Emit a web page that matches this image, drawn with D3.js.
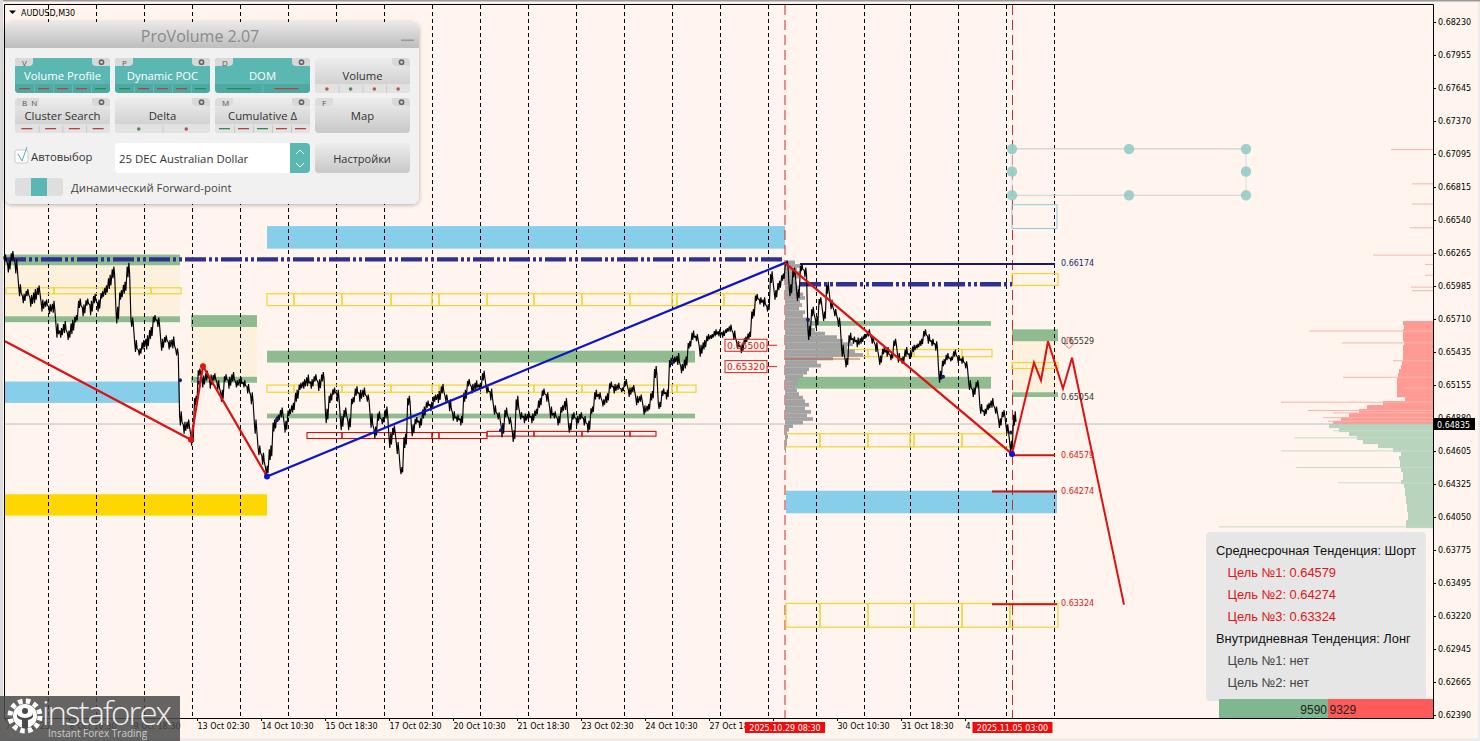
<!DOCTYPE html>
<html><head><meta charset="utf-8">
<script src="https://cdn.jsdelivr.net/npm/d3@7"></script>
<style>
html,body{margin:0;padding:0;background:#f0f0f0;overflow:hidden}
svg{display:block}
.axis text{font-family:"DejaVu Sans";font-size:8px;fill:#000}
.axis path,.axis line{stroke:#000;stroke-width:1;shape-rendering:crispEdges}
</style></head><body>
<svg id="c" width="1480" height="741"></svg>
<script>
// ---- DATA (prices in 1e-4 units, time in M30 bars from chart start) ----
const priceTickLabels=["0.68230","0.67955","0.67645","0.67370","0.67095","0.66815","0.66540","0.66265","0.65985","0.65710","0.65435","0.65155","0.64880","0.64605","0.64325","0.64050","0.63775","0.63495","0.63220","0.62945","0.62665","0.62390"];
const timeTickLabels=["7 Oct 2025","8 Oct 10:30","9 Oct 18:30","13 Oct 02:30","14 Oct 10:30","15 Oct 18:30","17 Oct 02:30","20 Oct 10:30","21 Oct 18:30","23 Oct 02:30","24 Oct 10:30","27 Oct 18:30","29 Oct 02:30","30 Oct 10:30","31 Oct 18:30","4 Nov 02:30"];
const daySeparators=[43,91,139,187,235,283,331,379,427,475,523,571,619,667,715,763,811,859,905,953,1001,1049];
const closeStep=3.74;
const closes=[
6624,6617,6626,6617,6597,6590,6595,6588,6592,6597,6584,6586,6581,6583,6563,6561,
6566,6559,6566,6573,6586,6580,6587,6582,6590,6584,6593,6597,6604,6612,6576,6593,
6599,6614,6570,6550,6545,6551,6553,6561,6573,6570,6551,6556,6551,6553,6545,6489,
6481,6484,6472,6504,6528,6520,6525,6520,6524,6517,6508,6523,6519,6524,6518,6520,
6518,6514,6506,6482,6462,6455,6445,6460,6483,6489,6494,6482,6494,6498,6508,6516,
6518,6521,6518,6523,6517,6524,6491,6506,6512,6508,6485,6494,6484,6504,6512,6508,
6511,6506,6487,6477,6491,6487,6494,6470,6479,6464,6445,6470,6504,6479,6487,6485,
6494,6501,6499,6506,6507,6514,6506,6500,6491,6489,6487,6508,6519,6514,6517,6516,
6525,6513,6509,6496,6491,6479,6494,6487,6474,6502,6491,6489,6491,6489,6494,6502,
6511,6507,6494,6492,6487,6497,6501,6481,6491,6487,6491,6487,6482,6496,6509,6508,
6502,6506,6517,6514,6516,6513,6519,6511,6514,6504,6506,6496,6498,6508,6528,6500,
6511,6509,6536,6538,6539,6531,6536,6551,6559,6557,6546,6551,6557,6558,6561,6561,
6560,6563,6565,6559,6551,6548,6555,6559,6577,6591,6588,6587,6582,6608,6593,6601,
6608,6620,6597,6612,6593,6616,6612,6561,6579,6570,6588,6575,6599,6585,6578,6570,
6546,6536,6557,6555,6553,6555,6558,6561,6555,6549,6538,6546,6545,6541,6553,6540,
6538,6545,6542,6548,6550,6553,6561,6556,6553,6550,6524,6536,6541,6539,6544,6539,
6538,6534,6517,6511,6518,6497,6494,6499,6502,6496,6485,6493,6480,6465,6489];
// half-range of each sampled span, read as the local thickness of the price trace
const swings=[
3,5,4,6,5,4,3,5,6,4,5,3,4,5,6,4,
5,4,6,3,4,5,3,6,4,5,3,4,6,5,7,4,
5,6,4,5,3,4,6,5,3,4,5,3,4,5,3,6,
5,4,6,4,3,5,4,6,3,4,5,3,5,4,3,4,
3,4,5,6,4,5,4,6,5,3,4,5,3,4,5,3,
4,5,4,3,5,4,6,4,3,5,6,4,5,3,4,5,
4,3,6,5,4,3,5,6,4,5,3,6,4,5,3,4,
5,3,4,3,5,4,3,5,4,3,4,5,3,4,4,3,
4,3,5,4,3,6,4,3,5,6,3,4,3,4,3,4,
3,4,5,3,4,3,5,4,3,4,3,4,5,3,4,3,
3,4,3,4,3,2,3,4,3,4,3,4,3,4,5,3,
3,4,4,3,5,4,5,3,4,3,5,4,3,2,3,3,
3,2,3,4,3,4,3,3,4,3,3,4,3,5,4,4,
3,2,5,4,5,3,4,6,4,5,3,4,5,4,3,4,
5,4,4,3,4,3,2,3,3,4,4,3,4,3,3,4,
3,4,3,3,2,3,3,4,3,4,5,3,3,2,3,3,
3,3,4,4,3,4,3,3,4,3,4,3,4,5,6];

const creamZones=[[0,175,6618,6575],[186,252,6566,6524],[1007,1052,6554,6511]];
const greenZones=[[0,175,6627,6618],[0,175,6575,6570],[186,252,6576,6566],[186,252,6524,6519],[262,690,6546,6536],[262,690,6493,6489],[800,986,6571,6567],[788,986,6524,6514],[1007,1053,6564,6554],[1007,1053,6511,6507]];
const blueZones=[[0,175,6520,6502],[262,780,6651,6632],[781,1052,6428,6409]];
const goldZones=[[0,262,6425,6407]];

const yellowRows=[
 {edges:[262,289,337,386,427,434,482,529,577,625,667,672,719,750],top:6594,bot:6584},
 {edges:[262,289,337,386,427,434,482,529,577,625,667,672,691],top:6517,bot:6511},
 {edges:[1,49,98,146,176],top:6599,bot:6594},
 {edges:[781,815,863,905,909,957,1007],top:6476,bot:6465},
 {edges:[818,863,909,957,987],top:6547,bot:6541},
 {edges:[781,815,863,909,957,1005,1053],top:6333,bot:6313},
 {edges:[1007,1053],top:6611,bot:6601},
 {edges:[1007,1053],top:6536,bot:6531}];
const redRows=[
 {edges:[302,337,386,427,434,482],top:6477,bot:6472},
 {edges:[482,529,577,625,651],top:6478,bot:6474}];

const dashDotLevels=[[0,780,6623],[795,1007,6602]];
const navyLevel=[795,1050,6619];
const redLevels=[[1007,1050,6457.9],[987,1052,6427.4],[987,1052,6332.4]];
const levelLabels=[["0.66174",6619.5,"#1b2a6b"],["0.65529",6554.5,"#333"],["0.65054",6507,"#333"],["0.64579",6458,"#e01515"],["0.64274",6428,"#e01515"],["0.63324",6333,"#e01515"]];

const redWaveBars=[0,186,198,262], redWaveVals=[6554,6471,6533,6440];
const blueWaveBars=[262,780], blueWaveVals=[6440,6620];
const dropBars=[780,1007], dropVals=[6620,6459];
const forecastBars=[1007,1029,1036,1043,1058,1067,1119], forecastVals=[6459,6536,6521,6554,6514,6540,6332];
const markerBars=[175,194,272,496,667,803,938,1006], markerVals=[6521,6519,6488,6479,6536,6572,6524,6477];
const handleBars=[1007,1124,1241], handleVals=[6716,6697,6677];

const sessionVols=[10,18,12,16,14,10,12,15,12,18,20,15,17,14,20,18,22,28,24,30,40,52,58,68,62,70,78,48,32,36,24,22,18,14,12,10,12,14,18,20,24,20,26,22,28,18,8,4,2,3,2,2,1,1];
const askVols=[30,29,30,30,30,29,30,30,30,30,31,32,34,35,36,36,36,36,36,28,50,66,74,84,92,100];
const bidVols=[104,94,84,76,70,55,40,32,34,33,33,32,30,30,32,29,28,28,27,27,26,26,25,25,27,27];
const askSpikes=[[6716,42],[6687,21],[6670,21],[6650,23],[6627,60],[6619,8],[6610,8],[6600,22],[6597,21],[6563,124],[6553,91],[6538,40],[6524,90],[6515,30],[6503,152],[6496,125],[6494,100],[6490,110],[6487,105]];
const bidSpikes=[[6479,100],[6473,139],[6462,152],[6448,137],[6435,95],[6398,214]];

const buttonLabels=["Volume Profile","Dynamic POC","DOM","Volume","Cluster Search","Delta","Cumulative Δ","Map"];
const buttonTags=["V","P","D","","B  N","","M","F"];
const buttonOn=[1,1,1,0,0,0,0,0];
const buttonStrips=["rrrrg","grrrg","gr","o:rgrr","rrrr","o:gr","grgrr",""];
const panelTexts=[["Среднесрочная Тенденция: Шорт",0,"#111"],["Цель №1: 0.64579",1,"#e01515"],["Цель №2: 0.64274",1,"#e01515"],["Цель №3: 0.63324",1,"#e01515"],["Внутридневная Тенденция: Лонг",0,"#111"],["Цель №1: нет",1,"#444"],["Цель №2: нет",1,"#444"]];

// ---- SCALES ----
const svg=d3.select("#c");
const x=d3.scaleLinear().domain([0,1428]).range([5,1433]);
const yp=d3.scaleLinear().domain([0.6239,0.6823]).range([715,22]);
const y=v=>yp(v/1e4);
const vol=d3.scaleLinear().domain([0,100]).range([0,100]);

// background
svg.append("rect").attr("width",1480).attr("height",741).attr("fill","#ececec");
svg.append("rect").attr("x",1).attr("y",1).attr("width",1477).attr("height",737).attr("fill","#fff5ee");
svg.append("rect").attr("x",0).attr("y",0).attr("width",1480).attr("height",1.5).attr("fill","#999");
svg.append("rect").attr("x",0).attr("y",0).attr("width",3).attr("height",718).attr("fill","#ddd");

// zones
function zones(data,fill){svg.append("g").selectAll("rect").data(data).join("rect")
 .attr("x",d=>x(d[0])).attr("width",d=>x(d[1])-x(d[0])).attr("y",d=>y(d[2])).attr("height",d=>y(d[3])-y(d[2])).attr("fill",fill);}
zones(creamZones,"#fdf0dc");zones(blueZones,"#87ceeb");zones(goldZones,"#ffd700");zones(greenZones,"#8fbc8f");

// DOM profile
const askLevels=d3.range(6571,6571-3.372*askVols.length,-3.372), bidLevels=d3.range(6484.3,6484.3-3.372*bidVols.length,-3.372);
const domG=svg.append("g");
domG.selectAll(".a").data(askVols).join("rect").attr("x",d=>1433-vol(d)).attr("width",d=>vol(d)).attr("y",(d,i)=>y(askLevels[i])).attr("height",4.2).attr("fill","#ff9a93");
domG.selectAll(".b").data(bidVols).join("rect").attr("x",d=>1433-vol(d)).attr("width",d=>vol(d)).attr("y",(d,i)=>y(bidLevels[i])).attr("height",4.2).attr("fill","#b9d4bd");
domG.selectAll(".sa").data(askSpikes).join("rect").attr("x",d=>1433-vol(d[1])).attr("width",d=>vol(d[1])).attr("y",d=>y(d[0])).attr("height",1).attr("fill","#f5b5ae");
domG.selectAll(".sb").data(bidSpikes).join("rect").attr("x",d=>1433-vol(d[1])).attr("width",d=>vol(d[1])).attr("y",d=>y(d[0])).attr("height",1).attr("fill","#c5dcc8");

// horizontal current-price line
svg.append("line").attr("x1",4).attr("x2",1433).attr("y1",y(6484.2)).attr("y2",y(6484.2)).attr("stroke","#bdbdbd");

// day separators
svg.append("g").selectAll("line").data(daySeparators).join("line")
 .attr("x1",d=>x(d)+.5).attr("x2",d=>x(d)+.5).attr("y1",5).attr("y2",718).attr("stroke","#000").attr("stroke-dasharray","4,3");
// session lines
svg.append("g").selectAll("line").data([780,1007.5]).join("line")
 .attr("x1",d=>x(d)).attr("x2",d=>x(d)).attr("y1",5).attr("y2",718).attr("stroke","#c92a2a").attr("stroke-width",1).attr("stroke-dasharray","10,5");

// boxes
function boxRows(rows,stroke,w){rows.forEach(r=>{const segs=d3.pairs(r.edges);
 svg.append("g").selectAll("rect").data(segs).join("rect").attr("x",d=>x(d[0])).attr("width",d=>x(d[1])-x(d[0])).attr("y",y(r.top)).attr("height",y(r.bot)-y(r.top)).attr("fill","none").attr("stroke",stroke).attr("stroke-width",w);});}
boxRows(yellowRows,"#f0d530",1.2);boxRows(redRows,"#cc1010",1.1);

// session profile
const sessLevels=d3.range(6622,6622-3*sessionVols.length,-3);
svg.append("g").selectAll("rect").data(sessionVols).join("rect").attr("x",x(780)).attr("width",d=>vol(d)).attr("y",(d,i)=>y(sessLevels[i])).attr("height",3.7).attr("fill","#a2a2a2");
svg.append("line").attr("x1",x(780)).attr("x2",x(855)).attr("y1",y(6539)).attr("y2",y(6539)).attr("stroke","#b5654a").attr("stroke-width",1.2);

// dash-dot levels
svg.append("g").selectAll("line").data(dashDotLevels).join("line").attr("x1",d=>x(d[0])).attr("x2",d=>x(d[1])).attr("y1",d=>y(d[2])).attr("y2",d=>y(d[2]))
 .attr("stroke","#2e3192").attr("stroke-width",4.4).attr("stroke-dasharray","21,3,3,3,3,3");
svg.append("line").attr("x1",x(navyLevel[0])).attr("x2",x(navyLevel[1])).attr("y1",y(navyLevel[2])).attr("y2",y(navyLevel[2])).attr("stroke","#191970").attr("stroke-width",2);

// price: each sampled span goes up to its high and down to its low
const line=d3.line().x(d=>x(d[0])).y(d=>y(d[1]));
const pricePts=[];
closes.forEach((c,i)=>{const s=swings[i],b=i*closeStep;
 pricePts.push([b-1.2,c+s*.5],[b-.4,c-s],[b+.4,c+s],[b+1.2,c-s*.5]);});
svg.append("path").attr("d",line(pricePts)).attr("fill","none").attr("stroke","#000").attr("stroke-width",1.15).attr("stroke-linejoin","bevel");

// small markers
svg.append("g").selectAll("circle").data(markerBars).join("circle").attr("cx",d=>x(d)).attr("cy",(d,i)=>y(markerVals[i])).attr("r",2).attr("fill","#191970");

// other outlined boxes and handles
svg.append("rect").attr("x",x(1007)).attr("width",x(1052)-x(1007)).attr("y",y(6669)).attr("height",y(6649)-y(6669)).attr("fill","none").attr("stroke","#8cc8de");
svg.append("g").selectAll("line").data([6716,6677]).join("line").attr("x1",x(1007)).attr("x2",x(1241)).attr("y1",d=>y(d)).attr("y2",d=>y(d)).attr("stroke","#cfcfcf").attr("stroke-width",1.2);
svg.append("line").attr("x1",x(1241)).attr("x2",x(1241)).attr("y1",y(6716)).attr("y2",y(6677)).attr("stroke","#e0e0e0").attr("stroke-width",1.2);
svg.append("line").attr("x1",x(1007)).attr("x2",x(1007)).attr("y1",y(6716)).attr("y2",y(6677)).attr("stroke","#e0e0e0").attr("stroke-width",1.2);
const handleG=svg.append("g");
handleBars.forEach(b=>handleVals.forEach(v=>{ if(b===1124&&v===6697)return;
 handleG.append("circle").attr("cx",x(b)).attr("cy",y(v)).attr("r",5.2).attr("fill","#8fc9c4").attr("opacity",.85);}));

// waves
function wave(bars,vals,col,w){svg.append("path").attr("d",line(bars.map((b,i)=>[b,vals[i]]))).attr("fill","none").attr("stroke",col).attr("stroke-width",w);}
wave(redWaveBars,redWaveVals,"#dd1111",2.2);
wave(blueWaveBars,blueWaveVals,"#0a14c8",2.2);
wave(dropBars,dropVals,"#dd1111",2.2);
redLevels.forEach(d=>svg.append("line").attr("x1",x(d[0])).attr("x2",x(d[1])).attr("y1",y(d[2])).attr("y2",y(d[2])).attr("stroke","#c81414").attr("stroke-width",2));
wave(forecastBars,forecastVals,"#dd1111",2);
[[186,6471,"#e81010"],[198,6533,"#e81010"]].forEach(d=>svg.append("circle").attr("cx",x(d[0])).attr("cy",y(d[1])).attr("r",3).attr("fill",d[2]));
[[262,6440],[1007,6459]].forEach(d=>svg.append("circle").attr("cx",x(d[0])).attr("cy",y(d[1])).attr("r",3).attr("fill","#1414d0"));
// arrow
const ax=x(1064),ay=y(6557);
svg.append("path").attr("d",`M${ax-2},${ay} h4 v6 h3 l-5,5 l-5,-5 h3 z`).attr("fill","#fff5ee").attr("stroke","#e56b5e");

// level labels
svg.append("g").selectAll("text").data(levelLabels).join("text").attr("x",x(1056)).attr("y",d=>y(d[1])+3).text(d=>d[0]).attr("fill",d=>d[2])
 .attr("font-family","DejaVu Sans").attr("font-size",8);
// red price boxes
[["0.65500",6551],["0.65320",6533]].forEach(d=>{const g=svg.append("g");
 g.append("rect").attr("x",x(720)).attr("width",42).attr("y",y(d[1])-5.5).attr("height",12).attr("fill","none").attr("stroke","#d42020");
 g.append("line").attr("x1",x(762)).attr("x2",x(772)).attr("y1",y(d[1])+.5).attr("y2",y(d[1])+.5).attr("stroke","#d42020");
 g.append("text").attr("x",x(741)).attr("y",y(d[1])+4).attr("text-anchor","middle").attr("font-family","DejaVu Sans").attr("font-size",9.2).attr("fill","#d42020").text(d[0]);});

// axes
const xTicks=timeTickLabels.map((d,i)=>i*64);
const xAxis=svg.append("g").attr("class","axis").attr("transform","translate(0,718)").call(d3.axisBottom(x).tickValues(xTicks).tickFormat((d,i)=>timeTickLabels[i]).tickSize(3).tickSizeOuter(0));
xAxis.selectAll("text").attr("text-anchor","start").attr("y",5).attr("dy","0.71em").attr("dx",0);
const yTicks=priceTickLabels.map((d,i)=>0.6823-i*0.0584/21);
const yAxis=svg.append("g").attr("class","axis").attr("transform","translate(1433,0)").call(d3.axisRight(yp).tickValues(yTicks).tickFormat((d,i)=>priceTickLabels[i]).tickSize(3).tickSizeOuter(0).tickPadding(2));
// frame
svg.append("path").attr("d","M4.5,718V4.5H1433.5V718").attr("fill","none").attr("stroke","#000");
svg.append("line").attr("x1",4).attr("x2",1433).attr("y1",718.5).attr("y2",718.5).attr("stroke","#000");
// current price tag
svg.append("rect").attr("x",1434).attr("y",418).attr("width",41).attr("height",12).attr("fill","#000");
svg.append("text").attr("x",1437).attr("y",427.5).attr("fill","#fff").attr("font-family","DejaVu Sans").attr("font-size",8).text("0.64835");
// symbol
svg.append("path").attr("d","M9,10.5h7l-3.5,3.5z").attr("fill","#000");
svg.append("text").attr("x",21).attr("y",15.5).attr("font-family","DejaVu Sans").attr("font-size",8).attr("fill","#000").text("AUDUSD,M30");

// session time labels
[[745,"2025.10.29 08:30"],[972.5,"2025.11.05 03:00"]].forEach(d=>{
 svg.append("rect").attr("x",d[0]).attr("y",722).attr("width",80).attr("height",11).attr("fill","#f00c0c");
 svg.append("text").attr("x",d[0]+40).attr("y",731).attr("text-anchor","middle").attr("font-family","DejaVu Sans").attr("font-size",8).attr("fill","#fff").text(d[1]);});

// targets panel
svg.append("rect").attr("x",1206).attr("y",532).attr("width",220).attr("height",169).attr("rx",4).attr("fill","#e6e6e6");
panelTexts.forEach((t,i)=>svg.append("text").attr("x",1216+t[1]*11.5).attr("y",555+i*22).attr("font-family","Liberation Sans").attr("font-size",12.85).attr("fill",t[2]).text(t[0]));
svg.append("rect").attr("x",1219).attr("y",699).attr("width",109).attr("height",19).attr("fill","#7fb890");
svg.append("rect").attr("x",1328).attr("y",699).attr("width",105).attr("height",19).attr("fill","#ff5a5a");
svg.append("text").attr("x",1327).attr("y",714).attr("text-anchor","end").attr("font-family","Liberation Sans").attr("font-size",12).attr("fill","#222").text("9590");
svg.append("text").attr("x",1329.5).attr("y",714).attr("font-family","Liberation Sans").attr("font-size",12).attr("fill","#222").text("9329");

// ProVolume panel
const defs=svg.append("defs");
function grad(id,a,b){const g=defs.append("linearGradient").attr("id",id).attr("x1",0).attr("x2",0).attr("y1",0).attr("y2",1);g.append("stop").attr("offset",0).attr("stop-color",a);g.append("stop").attr("offset",1).attr("stop-color",b);}
grad("gt","#e8e8e8","#bdbdbd");grad("gb","#ededed","#c8c8c8");
const f=defs.append("filter").attr("id","sh").attr("x","-5%").attr("y","-5%").attr("width","110%").attr("height","110%");
f.append("feDropShadow").attr("dx",0).attr("dy",1).attr("stdDeviation",2).attr("flood-color","#000").attr("flood-opacity",.3);
const P=svg.append("g").attr("font-family","Open Sans");
P.append("rect").attr("x",5).attr("y",22).attr("width",414).attr("height",182).attr("rx",7).attr("fill","#f1f1f1").attr("filter","url(#sh)");
P.append("path").attr("d","M5,48V29a7,7 0 0 1 7,-7H412a7,7 0 0 1 7,7V48z").attr("fill","url(#gt)");
P.append("text").attr("x",200).attr("y",41.5).attr("text-anchor","middle").attr("font-size",16).attr("fill","#8a8a8a").text("ProVolume 2.07");
P.append("rect").attr("x",401).attr("y",39.5).attr("width",13).attr("height",1.6).attr("fill","#999");
buttonLabels.forEach((lab,i)=>{
 const bx=15+(i%4)*100, by=58+Math.floor(i/4)*40, bw=95, bh=35, on=buttonOn[i];
 const g=P.append("g").attr("transform",`translate(${bx},${by})`);
 g.append("rect").attr("width",bw).attr("height",bh).attr("rx",4).attr("fill",on?"#5bb7b1":"url(#gb)");
 const st=buttonStrips[i];
 if(st){
  g.append("path").attr("d",`M0,26H${bw}V31a4,4 0 0 1 -4,4H4a4,4 0 0 1 -4,-4z`).attr("fill",on?"#4fa9a3":"#e2e2e2");
  const dots=st.startsWith("o:"), cs=dots?st.slice(2):st, n=cs.length, w=bw/n;
  cs.split("").forEach((c,k)=>{const col=c==="r"?(dots?"#b5584f":"#b5453c"):(dots?"#4f8a5a":"#2f8a4f");
   if(dots) g.append("circle").attr("cx",(k+.5)*w).attr("cy",31).attr("r",1.8).attr("fill",col);
   else g.append("rect").attr("x",(k+.5)*w-(n===2?12:5.5)).attr("y",30).attr("width",n===2?24:11).attr("height",1.3).attr("fill",col);
   if(k>0) g.append("rect").attr("x",k*w).attr("y",27).attr("width",.8).attr("height",8).attr("fill",on?"#6cc0ba":"#c4c4c4");});
 }
 g.append("text").attr("x",bw/2).attr("y",22).attr("text-anchor","middle").attr("font-size",11.3).attr("fill",on?"#fff":"#333").text(lab);
 const tag=buttonTags[i];
 if(tag){const tw=tag.length>1?24:18;g.append("path").attr("d",`M0,4a4,4 0 0 1 4,-4H${tw}V4a4,4 0 0 1 -4,4H0z`).attr("fill",on?"#d9d9d9":"#dcdcdc");
  g.append("text").attr("x",7).attr("y",7.5).attr("font-size",8).attr("fill","#555").attr("xml:space","preserve").text(tag);}
 g.append("path").attr("d",`M${bw-18},0H${bw-4}a4,4 0 0 1 4,4V8H${bw-14}a4,4 0 0 1 -4,-4z`).attr("fill","#d8d8d8");
 g.append("circle").attr("cx",bw-8.5).attr("cy",4.2).attr("r",2.1).attr("fill","none").attr("stroke","#666").attr("stroke-width",1.6);
});
// checkbox
P.append("rect").attr("x",15).attr("y",150).attr("width",13).attr("height",13).attr("rx",2).attr("fill","#fff").attr("stroke","#ccc");
P.append("path").attr("d","M18,154l4,7l5,-14").attr("fill","none").attr("stroke","#4fb0aa").attr("stroke-width",1);
P.append("text").attr("x",31).attr("y",161).attr("font-size",11.3).attr("fill","#333").text("Автовыбор");
// select
P.append("rect").attr("x",115).attr("y",143).attr("width",195).attr("height",30).attr("rx",4).attr("fill","#fff");
P.append("path").attr("d","M290,143h16a4,4 0 0 1 4,4v22a4,4 0 0 1 -4,4h-16z").attr("fill","#5bb7b1");
P.append("path").attr("d","M296,154l4,-4l4,4M296,163l4,4l4,-4").attr("fill","none").attr("stroke","#fff").attr("stroke-width",1);
P.append("text").attr("x",119).attr("y",163).attr("font-size",11.4).attr("fill","#333").text("25 DEC Australian Dollar");
P.append("rect").attr("x",315).attr("y",143).attr("width",95).attr("height",30).attr("rx",4).attr("fill","url(#gb)");
P.append("text").attr("x",362).attr("y",163).attr("text-anchor","middle").attr("font-size",11).attr("fill","#333").text("Настройки");
// toggle
P.append("rect").attr("x",15).attr("y",178).attr("width",48).attr("height",18).attr("rx",3).attr("fill","#dedede");
P.append("rect").attr("x",31).attr("y",178).attr("width",16).attr("height",18).attr("fill","#5bb7b1");
P.append("text").attr("x",71).attr("y",192).attr("font-size",11.3).attr("fill","#444").text("Динамический Forward-point");

// logo
const L=svg.append("g");
L.append("rect").attr("x",0).attr("y",696).attr("width",180).attr("height",45).attr("fill","#4a4a4a").attr("opacity",.85);
L.append("circle").attr("cx",25).attr("cy",716).attr("r",15).attr("fill","none").attr("stroke","#fff").attr("stroke-width",5).attr("stroke-dasharray","4.5,3.4");
L.append("circle").attr("cx",25).attr("cy",716).attr("r",12).attr("fill","#fff");
L.append("circle").attr("cx",25).attr("cy",711).attr("r",3).attr("fill","#4a4a4a");
L.append("path").attr("d","M17,713a8,5 0 0 0 16,0v4a8,5 0 0 1 -5,3v8h-6v-8a8,5 0 0 1 -5,-3z").attr("fill","#4a4a4a");
L.append("text").attr("x",42).attr("y",725).attr("font-family","Open Sans").attr("font-weight",300).attr("font-size",33).attr("fill","#eee").attr("textLength",130).text("instaforex");
L.append("text").attr("x",48).attr("y",737).attr("font-family","Open Sans").attr("font-size",10).attr("fill","#ccc").text("Instant Forex Trading");
</script></body></html>
